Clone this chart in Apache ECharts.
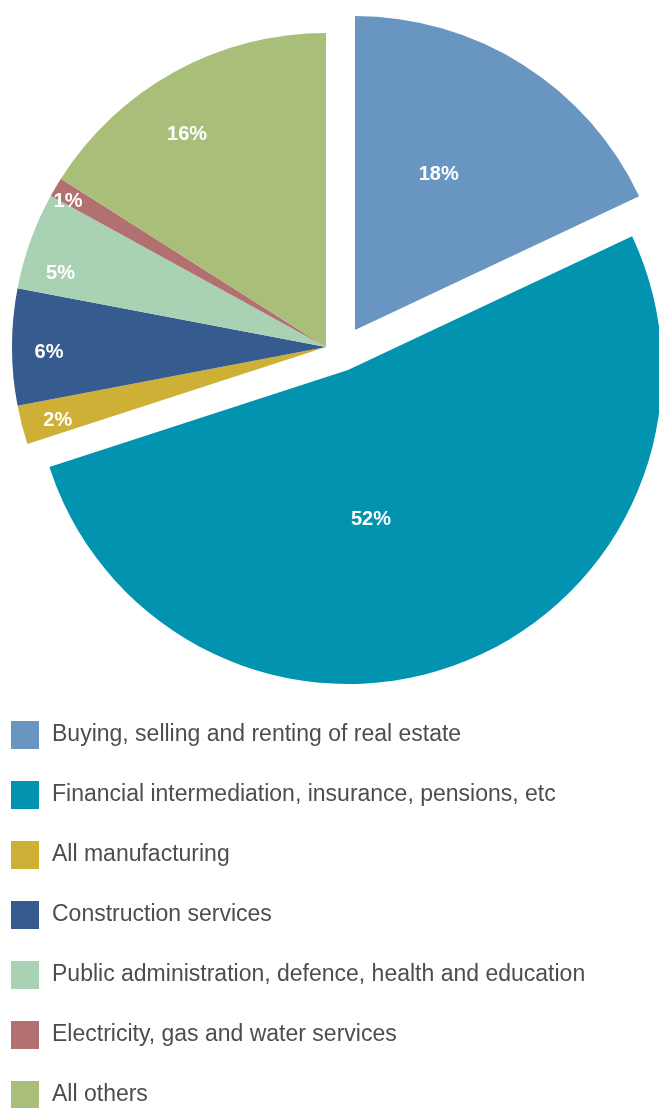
<!DOCTYPE html>
<html>
<head>
<meta charset="utf-8">
<script src="https://cdn.jsdelivr.net/npm/echarts@6/dist/echarts.min.js"></script>
<style>
  html, body { margin: 0; padding: 0; background: #ffffff; }
  #chart { width: 659px; height: 1108px; }
</style>
</head>
<body>
<div id="chart"></div>
<script>
// Sectors, in clockwise order from 12 o'clock
const categories = [
  'Buying, selling and renting of real estate',
  'Financial intermediation, insurance, pensions, etc',
  'All manufacturing',
  'Construction services',
  'Public administration, defence, health and education',
  'Electricity, gas and water services',
  'All others'
];
const shares = [18, 52, 2, 6, 5, 1, 16];

// Styling
const palette = ['#6995c1', '#0193b0', '#cfb036', '#365c8f', '#a9d1b3', '#b37071', '#a9bf79'];
const RADIUS = 314;
const MAIN_CENTER = [326, 347];
const REAL_ESTATE_CENTER = [355, 330];   // pulled-out sector
const FINANCE_CENTER = [348, 370];       // pulled-out sector
// small label nudges (dx, dy) by sector index
const labelNudge = {
  0: [-2, -20], 1: [-36, 1], 2: [3, 4], 3: [3, 5], 4: [-2, 21], 5: [-17, -3], 6: [-4, 33]
};

const labelStyle = {
  show: true,
  position: 'inside',
  formatter: '{c}%',
  color: '#ffffff',
  opacity: 1,
  fontFamily: 'Liberation Sans, Arial, sans-serif',
  fontWeight: 'bold',
  fontSize: 20
};

// Builds one pie layer: all sectors keep their angles; only `visible` ones are painted,
// only `labelled` ones carry a label.
function pieLayer(id, center, radius, visible, labelled) {
  return {
    id: id,
    type: 'pie',
    center: center,
    radius: radius,
    startAngle: 90,
    clockwise: true,
    silent: true,
    avoidLabelOverlap: false,
    animation: false,
    emphasis: { disabled: true },
    labelLine: { show: false },
    label: { show: false },
    labelLayout: function (p) {
      const n = labelNudge[p.dataIndex];
      return n ? { dx: n[0], dy: n[1] } : {};
    },
    data: categories.map(function (name, i) {
      return {
        name: name,
        value: shares[i],
        itemStyle: { color: visible.indexOf(i) >= 0 ? palette[i] : 'rgba(255,255,255,0)' },
        label: labelled.indexOf(i) >= 0 ? labelStyle : { show: false }
      };
    })
  };
}

const chart = echarts.init(document.getElementById('chart'), null, { renderer: 'canvas' });

chart.setOption({
  backgroundColor: '#ffffff',
  animation: false,
  legend: {
    orient: 'vertical',
    left: 11,
    top: 721,
    height: 440,
    padding: 0,
    icon: 'rect',
    itemWidth: 28,
    itemHeight: 28,
    itemGap: 32,
    selectedMode: false,
    textStyle: {
      fontFamily: 'Liberation Sans, Arial, sans-serif',
      fontSize: 23,
      color: '#4d4d4d',
      padding: [4, 0, 0, 8]
    },
    data: categories.map(function (name, i) {
      return { name: name, itemStyle: { color: palette[i], opacity: 1 } };
    })
  },
  series: [
    pieLayer('main', MAIN_CENTER, [0, RADIUS], [2, 3, 4, 5, 6], []),
    pieLayer('realEstate', REAL_ESTATE_CENTER, [0, RADIUS], [0], [0]),
    pieLayer('finance', FINANCE_CENTER, [0, RADIUS], [1], [1]),
    pieLayer('mainLabels', MAIN_CENTER, [240, RADIUS], [], [2, 3, 4, 5, 6])
  ]
});
</script>
</body>
</html>
